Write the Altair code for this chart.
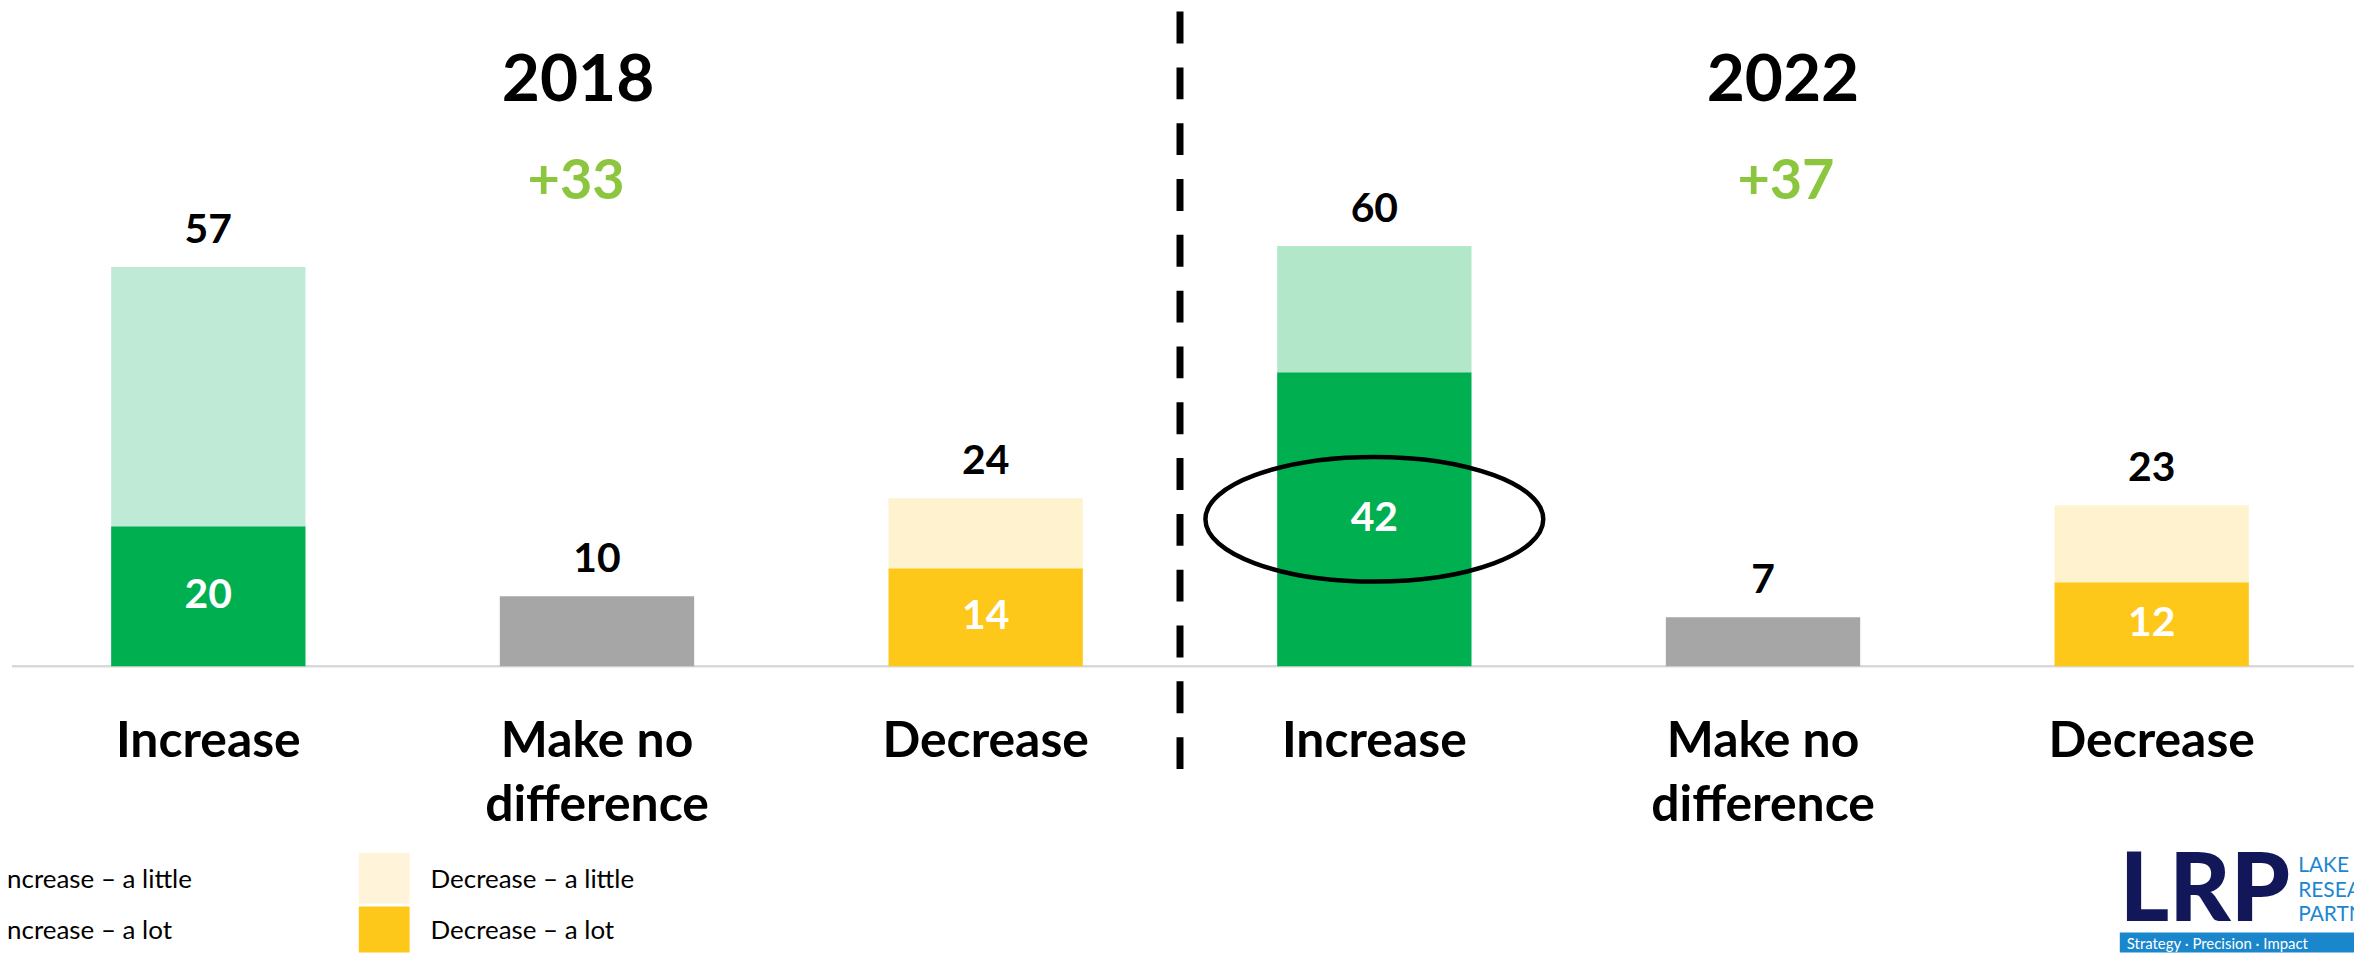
import altair as alt
import pandas as pd

# ---------------- data ----------------
years = ["2018", "2022"]
categories = ["Increase", "Make no difference", "Decrease"]
category_labels = ["Increase", "Make no|difference", "Decrease"]

a_lot_2018 = [20, 10, 14]
a_little_2018 = [37, 0, 10]
a_lot_2022 = [42, 7, 12]
a_little_2022 = [18, 0, 11]
totals_2018 = [57, 10, 24]
totals_2022 = [60, 7, 23]
net_labels = ["+33", "+37"]
highlight_value = [21]  # vertical centre of the circled "42"

legend_left = ["Increase \u2013 a little", "Increase \u2013 a lot"]
legend_right = ["Decrease \u2013 a little", "Decrease \u2013 a lot"]
logo_main = ["LRP"]
logo_words = ["LAKE", "RESEARCH", "PARTNERS"]
logo_tagline = ["Strategy \u00b7 Precision \u00b7 Impact"]

FONT = "Lato"

slots = [f"{y}|{c}" for y in years for c in categories]

seg_keys = ["2018 inc lot", "2018 inc little", "2022 inc lot", "2022 inc little",
            "none", "dec lot", "dec little"]
seg_colors = ["#00AF50", "#BFEBD6", "#00AF50", "#B3E7CA",
              "#A6A6A6", "#FEC81A", "#FFF2CF"]

rows = []
for y, lots, littles in [("2018", a_lot_2018, a_little_2018), ("2022", a_lot_2022, a_little_2022)]:
    for c, lot, little in zip(categories, lots, littles):
        slot = f"{y}|{c}"
        if c == "Increase":
            rows.append(dict(slot=slot, value=lot, key=f"{y} inc lot", order=0))
            rows.append(dict(slot=slot, value=little, key=f"{y} inc little", order=1))
        elif c == "Decrease":
            rows.append(dict(slot=slot, value=lot, key="dec lot", order=0))
            rows.append(dict(slot=slot, value=little, key="dec little", order=1))
        else:
            rows.append(dict(slot=slot, value=lot, key="none", order=0))
seg_df = pd.DataFrame(rows)

tot_rows = []
for y, tots in [("2018", totals_2018), ("2022", totals_2022)]:
    for c, t in zip(categories, tots):
        tot_rows.append(dict(slot=f"{y}|{c}", total=t))
tot_df = pd.DataFrame(tot_rows)

inner_rows = []
for y, lots in [("2018", a_lot_2018), ("2022", a_lot_2022)]:
    for c, lot in zip(categories, lots):
        if c != "Make no difference":
            inner_rows.append(dict(slot=f"{y}|{c}", mid=lot / 2, label=str(lot)))
inner_df = pd.DataFrame(inner_rows)

cat_rows = []
for y in years:
    for c, lab in zip(categories, category_labels):
        cat_rows.append(dict(slot=f"{y}|{c}", label=lab))
cat_df = pd.DataFrame(cat_rows)

ell_df = pd.DataFrame({"slot": ["2022|Increase"], "v": highlight_value})
zero_df = pd.DataFrame({"z": [0]})

# ---------------- scales ----------------
x_scale = alt.Scale(domain=slots, range=[6, 2346], paddingInner=0.5, paddingOuter=0.25)
y_scale = alt.Scale(domain=[0, 93.75], range=[659, 0], nice=False, zero=True)
X = alt.X("slot:N", scale=x_scale, axis=None)

one = pd.DataFrame({"a": [0]})


def txt(text, x, y, size, color="black", weight="normal", align="center", baseline="alphabetic"):
    return alt.Chart(pd.DataFrame({"t": [text]})).mark_text(
        font=FONT, fontSize=size, fontWeight=weight, color=color, align=align, baseline=baseline
    ).encode(x=alt.value(x), y=alt.value(y), text="t:N")


def box(x, x2, y, y2, color):
    return alt.Chart(one).mark_rect(color=color).encode(
        x=alt.value(x), x2=alt.value(x2), y=alt.value(y), y2=alt.value(y2)
    )


bars = alt.Chart(seg_df).mark_bar().encode(
    x=X,
    y=alt.Y("value:Q", stack="zero", scale=y_scale, axis=None),
    color=alt.Color("key:N", scale=alt.Scale(domain=seg_keys, range=seg_colors), legend=None),
    order=alt.Order("order:Q"),
)

baseline = alt.Chart(zero_df).mark_rule(color="#D9D9D9", strokeWidth=2.5).encode(
    x=alt.value(4), x2=alt.value(2354), y=alt.Y("z:Q", scale=y_scale, axis=None)
)

totals = alt.Chart(tot_df).mark_text(
    font=FONT, fontSize=41, fontWeight="bold", color="black", baseline="alphabetic", dy=-24
).encode(x=X, y=alt.Y("total:Q", scale=y_scale, axis=None), text="total:Q")

inner = alt.Chart(inner_df).mark_text(
    font=FONT, fontSize=41, fontWeight="bold", color="white", baseline="middle"
).encode(x=X, y=alt.Y("mid:Q", scale=y_scale, axis=None), text="label:N")

cats = alt.Chart(cat_df).transform_calculate(
    lines="split(datum.label, '|')"
).mark_text(
    font=FONT, fontSize=50, fontWeight="bold", color="black", baseline="alphabetic", lineHeight=64
).encode(x=X, y=alt.value(750), text="lines:N")

divider = alt.Chart(one).mark_rule(color="black", strokeWidth=7, strokeDash=[32, 24]).encode(
    x=alt.value(1176), y=alt.value(2), y2=alt.value(762)
)

ellipse = alt.Chart(ell_df).mark_point(
    shape="M -1 0 A 1 0.369 0 1 0 1 0 A 1 0.369 0 1 0 -1 0",
    size=339 * 339, filled=False, stroke="black", strokeWidth=4.5, opacity=1,
).encode(x=X, y=alt.Y("v:Q", scale=y_scale, axis=None))

titles = [
    txt(years[0], 572, 92, 66, weight="bold"),
    txt(years[1], 1781, 92, 66, weight="bold"),
    txt(net_labels[0], 570, 190, 56, color="#8CC63F", weight="bold"),
    txt(net_labels[1], 1784, 190, 56, color="#8CC63F", weight="bold"),
]

legend = [
    box(-80, -29, 846, 897, "#B9E9D0"),
    box(-80, -29, 900, 946, "#00AF50"),
    txt(legend_left[0], -8, 881, 26, align="left"),
    txt(legend_left[1], -8, 933, 26, align="left"),
    box(352, 403, 846, 897, "#FFF4D9"),
    box(352, 403, 900, 946, "#FEC81A"),
    txt(legend_right[0], 424, 881, 26, align="left"),
    txt(legend_right[1], 424, 933, 26, align="left"),
]

logo = [
    txt(logo_main[0], 2119, 915, 95, color="#12175A", weight=900, align="left"),
    txt(logo_words[0], 2298, 865, 21, color="#1C87D0", align="left"),
    txt(logo_words[1], 2298, 890, 21, color="#1C87D0", align="left"),
    txt(logo_words[2], 2298, 915, 21, color="#1C87D0", align="left"),
    box(2119, 2354, 926, 946, "#1A86CB"),
    txt(logo_tagline[0], 2126, 943, 15, color="white", align="left"),
]

chart = alt.layer(
    baseline, bars, totals, inner, cats, divider, ellipse, *titles, *legend, *logo
).properties(
    width=2354, height=946, padding=0,
    autosize=alt.AutoSizeParams(type="none"),
    background="white",
).configure_view(stroke=None)

chart.save("out.html", embed_options={"renderer": "svg", "actions": False})
